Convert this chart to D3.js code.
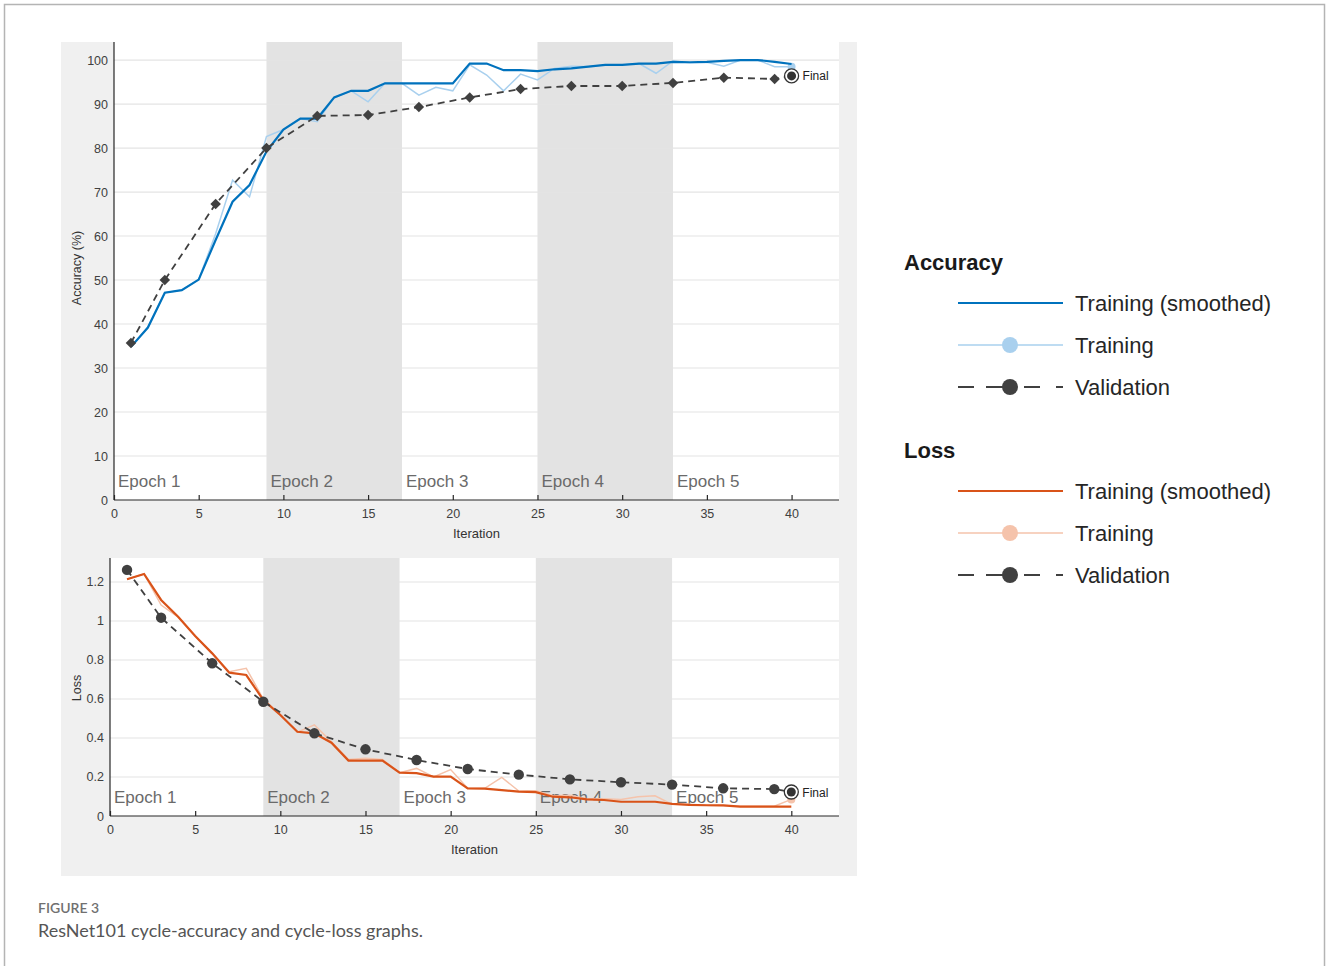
<!DOCTYPE html>
<html>
<head>
<meta charset="utf-8">
<script src="https://cdn.jsdelivr.net/npm/d3@7/dist/d3.min.js"></script>
<style>
  body { margin: 0; background: #fff; }
</style>
</head>
<body>
<div id="root"></div>
<script>
// iterations (x categories)
var iters = d3.range(1, 41);
var epochStarts = [0, 9, 17, 25, 33];
var epochNames = ["Epoch 1", "Epoch 2", "Epoch 3", "Epoch 4", "Epoch 5"];

// accuracy (%)
var accSmooth = [34.8,39.2,47.1,47.7,50.1,59.1,67.8,71.6,79.2,84.2,86.7,86.7,91.5,93.0,93.0,94.7,94.7,94.7,94.7,94.7,
                 99.2,99.2,97.7,97.7,97.5,97.9,98.1,98.5,98.9,98.9,99.2,99.2,99.6,99.5,99.6,99.8,100,100,99.6,99.1];
var accRaw = [34.8,39.2,47.1,47.7,50.1,60.5,72.7,68.9,82.6,84.2,86.7,86.0,91.5,93.0,90.5,94.7,94.7,92.0,93.8,93.0,
              98.9,96.6,93.0,96.8,95.5,98.1,98.6,98.5,98.9,98.9,99.2,97.0,99.8,99.4,99.5,98.6,100,100,98.5,98.5];
var valIters = [1,3,6,9,12,15,18,21,24,27,30,33,36,39];
var accVal = [35.7,50,67.3,80,87.3,87.5,89.3,91.5,93.4,94.1,94.1,94.8,96.0,95.7];
var accFinal = 96.4;

// loss
var lossSmooth = [1.214,1.241,1.108,1.022,0.923,0.834,0.735,0.723,0.595,0.518,0.432,0.424,0.376,0.284,0.284,0.284,0.222,0.22,0.202,0.202,
                  0.142,0.14,0.133,0.125,0.122,0.099,0.096,0.085,0.082,0.073,0.073,0.073,0.062,0.057,0.055,0.054,0.048,0.048,0.048,0.048];
var lossRaw = [1.214,1.241,1.082,1.02,0.923,0.834,0.74,0.757,0.60,0.52,0.43,0.467,0.38,0.29,0.296,0.29,0.222,0.244,0.20,0.238,
               0.142,0.142,0.198,0.128,0.13,0.104,0.106,0.088,0.088,0.085,0.099,0.104,0.06,0.06,0.055,0.054,0.05,0.05,0.05,0.085];
var lossVal = [1.262,1.017,0.783,0.586,0.424,0.342,0.287,0.241,0.212,0.188,0.173,0.161,0.142,0.138];
var lossFinal = 0.123;

var accTicks = [0,10,20,30,40,50,60,70,80,90,100];
var lossTicks = [0,0.2,0.4,0.6,0.8,1,1.2];
var xTicks = [0,5,10,15,20,25,30,35,40];

var W = 1327, H = 966;
var svg = d3.select("#root").append("svg")
    .attr("width", W)
    .attr("height", H)
    .attr("font-family", "'Liberation Sans', Arial, sans-serif");

svg.append("rect").attr("width", W).attr("height", H).attr("fill", "#fff");
// figure frame
svg.append("rect")
    .attr("x", 4.5).attr("y", 4.5)
    .attr("width", 1320).attr("height", 1000)
    .attr("fill", "none").attr("stroke", "#b4b4b4").attr("stroke-width", 1.5);
// gray panel
svg.append("rect")
    .attr("x", 61).attr("y", 42).attr("width", 796).attr("height", 834)
    .attr("fill", "#f0f0f0");

function panel(opt) {
    var x = d3.scaleLinear().domain([0, 42.8]).range([opt.left, 839]);
    var y = d3.scaleLinear().domain(opt.ydom).range([opt.bottom, opt.top]);
    var g = svg.append("g");

    g.append("rect")
        .attr("x", opt.left).attr("y", opt.top)
        .attr("width", 839 - opt.left).attr("height", opt.bottom - opt.top)
        .attr("fill", "#fff");

    // epoch shading
    g.selectAll(".shade")
        .data([[9, 17], [25, 33]])
        .enter().append("rect")
        .attr("x", function(d) { return x(d[0]); })
        .attr("width", function(d) { return x(d[1]) - x(d[0]); })
        .attr("y", opt.top)
        .attr("height", opt.bottom - opt.top)
        .attr("fill", "#e3e3e3");

    // grid
    g.selectAll(".grid")
        .data(opt.ticks.slice(1))
        .enter().append("line")
        .attr("x1", opt.left).attr("x2", 839)
        .attr("y1", function(d) { return y(d); })
        .attr("y2", function(d) { return y(d); })
        .attr("stroke", "#e4e4e4").attr("stroke-width", 1.2);

    // epoch labels
    g.selectAll(".ep")
        .data(epochStarts)
        .enter().append("text")
        .attr("x", function(d) { return x(d) + 4; })
        .attr("y", opt.bottom - 13)
        .attr("font-size", 17)
        .attr("fill", "#6a6a6a")
        .text(function(d, i) { return epochNames[i]; });

    // axes
    var xa = g.append("g")
        .attr("transform", "translate(0," + opt.bottom + ")")
        .call(d3.axisBottom(x).tickValues(xTicks).tickSize(-5).tickPadding(9).tickFormat(d3.format("d")));
    var ya = g.append("g")
        .attr("transform", "translate(" + opt.left + ",0)")
        .call(d3.axisLeft(y).tickValues(opt.ticks).tickSize(0).tickPadding(6).tickFormat(opt.fmt));
    [xa, ya].forEach(function(a) {
        a.attr("font-family", null);
        a.select(".domain").attr("stroke", "#262626").attr("stroke-width", 1.2);
        a.selectAll(".tick line").attr("stroke", "#262626").attr("stroke-width", 1.2);
        a.selectAll("text").attr("fill", "#404040").attr("font-size", 12.5);
    });
    xa.select(".domain").attr("d", "M" + opt.left + ",0H839");
    ya.select(".domain").attr("d", "M0," + opt.bottom + "V" + opt.top);

    g.append("text")
        .attr("x", (opt.left + 839) / 2).attr("y", opt.bottom + 38)
        .attr("text-anchor", "middle").attr("font-size", 13).attr("fill", "#333")
        .text("Iteration");
    g.append("text")
        .attr("transform", "translate(81," + opt.ylabY + ") rotate(-90)")
        .attr("text-anchor", "middle").attr("font-size", 12.5).attr("fill", "#333")
        .text(opt.ylabel);

    var line = d3.line()
        .x(function(d) { return x(d[0]); })
        .y(function(d) { return y(d[1]); });

    g.append("path")
        .datum(iters.map(function(it, i) { return [it, opt.raw[i]]; }))
        .attr("d", line).attr("fill", "none")
        .attr("stroke", opt.light).attr("stroke-width", 1.5);
    g.append("circle")
        .attr("cx", x(40)).attr("cy", y(opt.raw[39])).attr("r", 4)
        .attr("fill", opt.light);
    g.append("path")
        .datum(iters.map(function(it, i) { return [it, opt.smooth[i]]; }))
        .attr("d", line).attr("fill", "none")
        .attr("stroke", opt.dark).attr("stroke-width", 2.2);

    var vpts = valIters.map(function(it, i) { return [it, opt.val[i]]; });
    vpts.push([40, opt.final]);
    g.append("path")
        .datum(vpts)
        .attr("d", line).attr("fill", "none")
        .attr("stroke", "#404040").attr("stroke-width", 1.8)
        .attr("stroke-dasharray", "7,5");
    g.selectAll(".vm")
        .data(vpts.slice(0, -1))
        .enter().append("path")
        .attr("transform", function(d) {
            return "translate(" + x(d[0]) + "," + y(d[1]) + ") rotate(" + opt.rot + ")";
        })
        .attr("d", d3.symbol().type(opt.symbol).size(opt.symSize))
        .attr("fill", "#404040");

    // final marker
    var fx = x(40), fy = y(opt.final);
    g.append("circle").attr("cx", fx).attr("cy", fy).attr("r", 7)
        .attr("fill", "#fff").attr("stroke", "#333").attr("stroke-width", 1.3);
    g.append("circle").attr("cx", fx).attr("cy", fy).attr("r", 4.5).attr("fill", "#333");
    g.append("text").attr("x", fx + 11).attr("y", fy + 4.5)
        .attr("font-size", 12).attr("fill", "#222").text("Final");
}

panel({
    left: 114, top: 42, bottom: 500, ydom: [0, 104.1], ticks: accTicks,
    fmt: d3.format("d"), ylabel: "Accuracy (%)", ylabY: 268,
    raw: accRaw, smooth: accSmooth, val: accVal, final: accFinal,
    dark: "#0072bd", light: "#a9d0ee", symbol: d3.symbolSquare, symSize: 55, rot: 45
});
panel({
    left: 110, top: 558, bottom: 816, ydom: [0, 1.323], ticks: lossTicks,
    fmt: function(d) { return d3.format("")(d); }, ylabel: "Loss", ylabY: 688,
    raw: lossRaw, smooth: lossSmooth, val: lossVal, final: lossFinal,
    dark: "#d95319", light: "#f5c3ab", symbol: d3.symbolCircle, symSize: 85, rot: 0
});

// legend
var legendGroups = [
    { title: "Accuracy", y: 262, dark: "#0072bd", light: "#a9d0ee" },
    { title: "Loss", y: 450, dark: "#d95319", light: "#f5c3ab" }
];
var rowNames = ["Training (smoothed)", "Training", "Validation"];
legendGroups.forEach(function(lg) {
    var g = svg.append("g");
    g.append("text").attr("x", 904).attr("y", lg.y + 8)
        .attr("font-size", 22).attr("font-weight", "bold").attr("fill", "#1a1a1a")
        .text(lg.title);
    rowNames.forEach(function(name, i) {
        var ry = lg.y + 41 + i * 42;
        if (i === 0) {
            g.append("line").attr("x1", 958).attr("x2", 1063).attr("y1", ry).attr("y2", ry)
                .attr("stroke", lg.dark).attr("stroke-width", 2);
        } else if (i === 1) {
            g.append("line").attr("x1", 958).attr("x2", 1063).attr("y1", ry).attr("y2", ry)
                .attr("stroke", lg.light).attr("stroke-width", 1.5);
            g.append("circle").attr("cx", 1010).attr("cy", ry).attr("r", 8).attr("fill", lg.light);
        } else {
            g.append("line").attr("x1", 958).attr("x2", 1063).attr("y1", ry).attr("y2", ry)
                .attr("stroke", "#404040").attr("stroke-width", 1.8)
                .attr("stroke-dasharray", "16,12,26,12,16");
            g.append("circle").attr("cx", 1010).attr("cy", ry).attr("r", 8).attr("fill", "#404040");
        }
        g.append("text").attr("x", 1075).attr("y", ry + 8)
            .attr("font-size", 22).attr("fill", "#262626").text(name);
    });
});

// caption
svg.append("text").attr("x", 38).attr("y", 913)
    .attr("font-family", "Lato, 'Open Sans', sans-serif")
    .attr("font-size", 14).attr("font-weight", "600").attr("fill", "#707070")
    .text("FIGURE 3");
svg.append("text").attr("x", 38).attr("y", 937)
    .attr("font-family", "Lato, 'Open Sans', sans-serif")
    .attr("font-size", 18).attr("fill", "#555")
    .text("ResNet101 cycle-accuracy and cycle-loss graphs.");
</script>
</body>
</html>
